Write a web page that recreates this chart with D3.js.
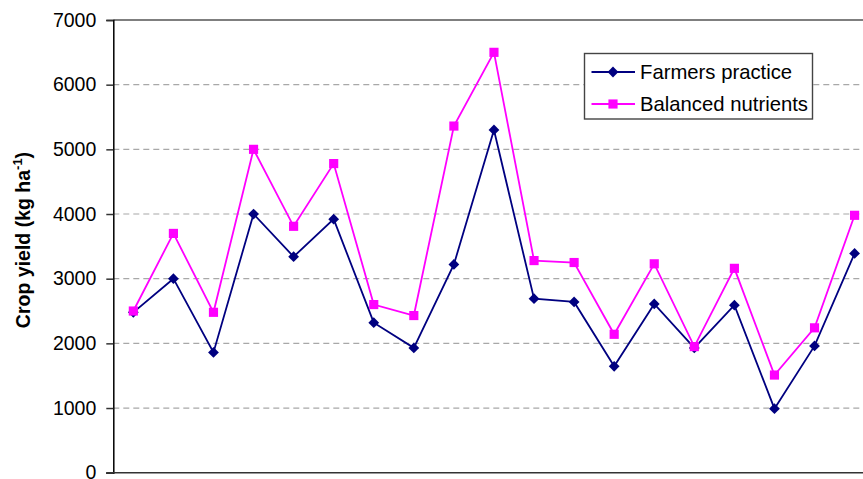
<!DOCTYPE html>
<html>
<head>
<meta charset="utf-8">
<script src="https://cdn.jsdelivr.net/npm/d3@7"></script>
<style>
  html, body { margin: 0; padding: 0; background: #fff; }
  svg { display: block; }
  text { font-family: Arial, "Liberation Sans", sans-serif; }
</style>
</head>
<body>
<svg id="chart" width="863" height="479"></svg>
<script>
// Sites along the x axis (unlabelled)
const sites = d3.range(1, 20).map(i => "S" + i);

// Crop yield, kg/ha
const farmersPractice = [2480, 3000, 1860, 4000, 3340, 3920, 2320, 1930, 3220, 5300,
                         2690, 2640, 1645, 2610, 1930, 2590, 990, 1960, 3390];
const balancedNutrients = [2500, 3700, 2480, 5000, 3810, 4780, 2600, 2430, 5360, 6500,
                           3280, 3250, 2140, 3230, 1950, 3160, 1510, 2240, 3980];

const yTicks = [0, 1000, 2000, 3000, 4000, 5000, 6000, 7000];
const seriesNames = ["Farmers practice", "Balanced nutrients"];
const seriesColors = ["#000080", "#FF00FF"];

const svg = d3.select("#chart");
const plotLeft = 113.3, plotTop = 20, plotBottom = 472.7;
const bandW = 40.07;

const x = d3.scaleBand().domain(sites).range([plotLeft, plotLeft + bandW * sites.length]);
const y = d3.scaleLinear().domain([0, 7000]).range([plotBottom, plotTop]);
const cx = d => x(d) + x.bandwidth() / 2;

// Gridlines
svg.append("g").selectAll("line")
  .data(yTicks.filter(t => t > 0))
  .join("line")
  .attr("x1", plotLeft).attr("x2", 863)
  .attr("y1", d => y(d)).attr("y2", d => y(d))
  .attr("stroke", d => d === 7000 ? "#555" : "#a8a8a8")
  .attr("stroke-width", d => d === 7000 ? 1.4 : 1.2)
  .attr("stroke-dasharray", d => d === 7000 ? null : "6,4");

// Y axis
const yAxis = d3.axisLeft(y).tickValues(yTicks).tickSize(7).tickPadding(10)
  .tickFormat(d3.format("d"));
const ya = svg.append("g").attr("transform", `translate(${plotLeft},0)`).call(yAxis);
ya.select(".domain").attr("stroke", "#000").attr("stroke-width", 1.5);
ya.selectAll(".tick line").attr("stroke", "#333").attr("stroke-width", 1.5);
ya.selectAll(".tick text").attr("font-size", 19.5).attr("fill", "#000")
  .attr("font-family", "Arial, 'Liberation Sans', sans-serif");

// X axis baseline
svg.append("line")
  .attr("x1", plotLeft - 7).attr("x2", 863)
  .attr("y1", y(0)).attr("y2", y(0))
  .attr("stroke", "#333").attr("stroke-width", 1.5);

// Y axis title
const title = svg.append("text")
  .attr("transform", "translate(29.5,240) rotate(-90)")
  .attr("text-anchor", "middle")
  .attr("font-size", 19.5).attr("font-weight", "bold").attr("fill", "#000");
title.append("tspan").text("Crop yield (kg ha");
title.append("tspan").attr("font-size", 13).attr("dy", -8).text("-1");
title.append("tspan").attr("dy", 8).text(")");

// Series lines and markers
const line = d3.line().x((d, i) => cx(sites[i])).y(d => y(d));
const diamond = d3.symbol().type(d3.symbolSquare).size(58);
const square = d3.symbol().type(d3.symbolSquare).size(84);

[farmersPractice, balancedNutrients].forEach((vals, k) => {
  const g = svg.append("g");
  g.append("path").datum(vals)
    .attr("d", line).attr("fill", "none")
    .attr("stroke", seriesColors[k]).attr("stroke-width", 1.8);
  g.selectAll("path.m").data(vals).join("path").attr("class", "m")
    .attr("transform", (d, i) => `translate(${cx(sites[i])},${y(d)})` + (k === 0 ? " rotate(45)" : ""))
    .attr("d", k === 0 ? diamond : square)
    .attr("fill", seriesColors[k]);
});

// Legend
const lg = svg.append("g");
lg.append("rect").attr("x", 584.5).attr("y", 53.5).attr("width", 228).attr("height", 65.5)
  .attr("fill", "#fff").attr("stroke", "#444").attr("stroke-width", 1.4);
seriesNames.forEach((name, k) => {
  const yy = k === 0 ? 72 : 104;
  lg.append("line").attr("x1", 591.5).attr("x2", 635).attr("y1", yy).attr("y2", yy)
    .attr("stroke", seriesColors[k]).attr("stroke-width", 1.8);
  lg.append("path").attr("transform", `translate(613,${yy})` + (k === 0 ? " rotate(45)" : ""))
    .attr("d", k === 0 ? diamond : square).attr("fill", seriesColors[k]);
  lg.append("text").attr("x", 640).attr("y", yy).attr("dy", "0.35em")
    .attr("font-size", 20.3).attr("fill", "#000").text(name);
});
</script>
</body>
</html>
